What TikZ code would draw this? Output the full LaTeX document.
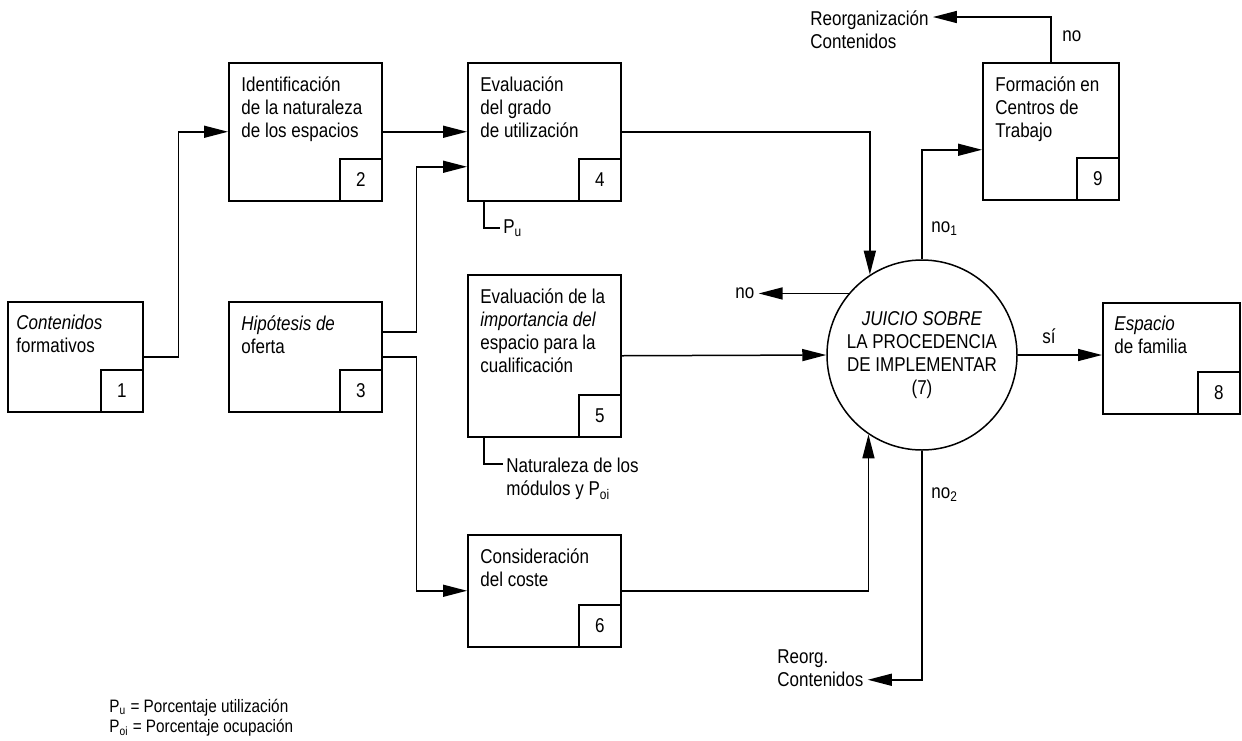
\documentclass[tikz,border=0pt]{standalone}
\usepackage{fontspec}
\setmainfont{Liberation Sans}[FakeStretch=0.85]
\usepackage{tikz}
\usetikzlibrary{arrows.meta, positioning}

\begin{document}
\begin{tikzpicture}[x=0.5pt, y=-0.5pt,
    box/.style={draw, line width=0.75pt, anchor=north west, minimum width=76.5pt, inner sep=0pt},
    numbox/.style={draw, line width=0.75pt, minimum size=21pt, inner sep=0pt, anchor=south east, font=\fontsize{10}{11.5}\selectfont},
    txt/.style={inner sep=0pt, align=left, font=\fontsize{10}{11.5}\selectfont},
    lbl/.style={inner sep=2pt, align=left, font=\fontsize{10}{11.5}\selectfont},
    judge/.style={draw, circle, line width=0.75pt, minimum size=95pt, inner sep=0pt, align=center, font=\fontsize{10}{11.5}\selectfont},
    arrow/.style={-{Triangle[length=12pt, width=6pt]}, line width=0.75pt},
    link/.style={line width=0.75pt}
]
\useasboundingbox (0,0) rectangle (1242,740);

% Boxes
\node[box, minimum width=67.5pt, minimum height=55pt] (b1) at (7,301) {};
\node[box, minimum height=69pt] (b2) at (228,62) {};
\node[box, minimum height=55pt] (b3) at (228,301) {};
\node[box, minimum height=69pt] (b4) at (467,62) {};
\node[box, minimum height=81pt] (b5) at (467,274) {};
\node[box, minimum height=56pt] (b6) at (467,534) {};
\node[box, minimum width=68.5pt, minimum height=55.5pt] (b8) at (1102,302) {};
\node[box, minimum width=68pt, minimum height=68.5pt] (b9) at (982,62) {};
\node[judge] (juicio) at (922,355) {\textit{JUICIO SOBRE}\\LA PROCEDENCIA\\DE IMPLEMENTAR\\(7)};

% Number tags
\foreach \b/\n in {b1/1, b2/2, b3/3, b4/4, b5/5, b6/6, b8/8, b9/9}
  \node[numbox] (n\n) at (\b.south east) {\n};

% Box texts
\node[txt, below right=7pt and 4.5pt of b1.north west] (t1) {\textit{Contenidos}\\formativos};
\node[txt, below right=7pt and 6.5pt of b2.north west] (t2) {Identificación\\de la naturaleza\\de los espacios};
\node[txt, below right=7pt and 6.5pt of b3.north west] (t3) {\textit{Hipótesis de}\\oferta};
\node[txt, below right=7pt and 6.5pt of b4.north west] (t4) {Evaluación\\del grado\\de utilización};
\node[txt, below right=7pt and 6.5pt of b5.north west] (t5) {Evaluación de la\\\textit{importancia del}\\espacio para la\\cualificación};
\node[txt, below right=7pt and 6.5pt of b6.north west] (t6) {Consideración\\del coste};
\node[txt, below right=7pt and 6pt of b8.north west] (t8) {\textit{Espacio}\\de familia};
\node[txt, below right=7pt and 6.5pt of b9.north west] (t9) {Formación en\\Centros de\\Trabajo};

% Side labels
\node[lbl, left=45pt of juicio.140] (no0) {no};
\node[lbl, anchor=north west] (reorg9) at (806,6) {Reorganización\\Contenidos};
\node[lbl, anchor=north west] (reorg7) at (773,645) {Reorg.\\Contenidos};
\node[lbl, anchor=west] (l9) at (1058,36) {no};
\node[lbl, anchor=west] (l1) at (927,229) {no\textsubscript{1}};
\node[lbl, anchor=west] (l2) at (927,495) {no\textsubscript{2}};
\node[lbl, anchor=west] (lsi) at (1038,336) {sí};
\node[lbl, anchor=west, inner sep=1.5pt] (pu) at (500,228) {P\textsubscript{u}};
\node[lbl, anchor=north west, inner sep=1.5pt] (nat) at (503,455) {Naturaleza de los\\módulos y P\textsubscript{oi}};
\node[txt, anchor=north west, font=\fontsize{9}{10}\selectfont] (legend) at (109,699) {P\textsubscript{u} = Porcentaje utilización\\P\textsubscript{oi} = Porcentaje ocupación};

% Arrows
\draw[arrow] (b1.east) -- ++(35,0) |- (b2.west);
\draw[arrow] (b2.east) -- (b4.west);
\draw[arrow] ([yshift=12.5pt]b3.east) -- ++(34,0) |- ([yshift=-17.5pt]b4.west);
\draw[arrow] (b3.east) -- ++(34,0) |- (b6.west);
\draw[arrow] (b4.east) -| (juicio.123.5);
\draw[arrow] (b5.east) -- (juicio.west);
\draw[arrow] (b6.east) -| (juicio.236.5);
\draw[arrow] (juicio.east) -- (juicio.east -| b8.west);
\draw[arrow] (juicio.140) -- (no0);
\draw[arrow] (juicio.north) |- ([yshift=-9.25pt]b9.west);
\draw[arrow] (b9.north) |- ([yshift=-5.5pt]reorg9.north east);
\draw[arrow] (juicio.south) |- ([yshift=5.5pt]reorg7.south east);

% Brackets
\draw[link] ([xshift=8.5pt]b4.south west) |- (pu);
\draw[link] ([xshift=8.5pt]b5.south west) |- ([yshift=-4.5pt]nat.north west);

\end{tikzpicture}
\end{document}
